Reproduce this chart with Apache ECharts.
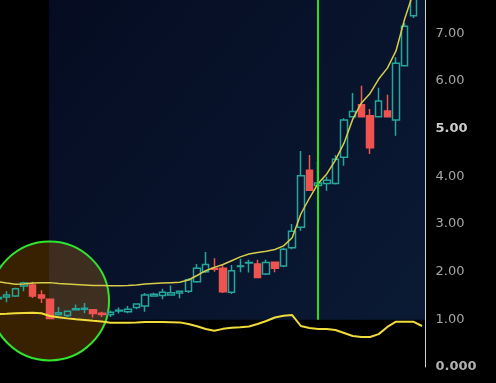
<!DOCTYPE html>
<html><head><meta charset="utf-8">
<script src="https://cdn.jsdelivr.net/npm/echarts@6/dist/echarts.min.js"></script>
<style>html,body{margin:0;padding:0;background:#000;}#c{width:496px;height:383px;}</style>
</head><body><div id="c"></div>
<script>
// ---- data ----
var opens  = [1.43,1.47,1.49,1.70,1.72,1.51,1.42,1.10,1.08,1.20,1.21,1.20,1.13,1.10,1.175,1.16,1.25,1.28,1.49,1.50,1.51,1.55,1.59,1.79,2.00,2.07,2.07,1.57,2.11,2.18,2.16,1.95,2.20,2.12,2.50,2.93,4.13,3.81,3.85,3.85,4.40,5.25,5.50,5.27,5.25,5.37,5.18,6.32,7.37];
var closes = [1.46,1.51,1.64,1.76,1.49,1.45,1.02,1.14,1.17,1.22,1.23,1.12,1.10,1.15,1.19,1.21,1.32,1.51,1.525,1.57,1.56,1.59,1.83,2.07,2.15,2.05,1.58,2.02,2.12,2.19,1.88,2.19,2.07,2.47,2.85,4.01,3.71,3.86,3.92,4.36,5.18,5.36,5.25,4.60,5.58,5.25,6.37,7.15,7.95];
var lows   = [1.40,1.36,1.47,1.59,1.45,1.34,1.00,1.08,1.05,1.20,1.13,1.04,1.05,1.05,1.12,1.13,1.21,1.16,1.49,1.42,1.51,1.44,1.55,1.77,1.97,2.00,1.55,1.53,1.99,1.98,1.88,1.93,1.99,2.09,2.47,2.86,3.70,3.81,3.70,3.83,4.22,5.25,5.25,4.47,5.25,5.25,4.85,6.32,7.32];
var highs  = [1.50,1.59,1.66,1.79,1.79,1.61,1.42,1.26,1.17,1.31,1.34,1.20,1.16,1.18,1.25,1.28,1.32,1.55,1.56,1.64,1.71,1.59,1.86,2.16,2.41,2.28,2.16,2.14,2.27,2.25,2.25,2.25,2.20,2.50,3.00,4.53,4.45,4.31,3.99,4.45,5.22,5.75,5.90,5.41,5.86,5.71,6.50,7.21,8.05];
var maLine = [1.79,1.76,1.735,1.74,1.76,1.77,1.77,1.75,1.74,1.73,1.72,1.71,1.71,1.705,1.705,1.71,1.72,1.74,1.75,1.76,1.77,1.78,1.825,1.92,2.02,2.09,2.15,2.23,2.31,2.37,2.40,2.43,2.465,2.54,2.71,3.21,3.545,3.85,4.05,4.34,4.70,5.20,5.54,5.74,6.04,6.27,6.63,7.30,7.85];
var oscLine = [1.112,1.118,1.126,1.133,1.139,1.126,1.07,1.045,1.02,1.00,0.986,0.969,0.954,0.929,0.929,0.929,0.934,0.944,0.944,0.944,0.94,0.936,0.902,0.854,0.797,0.759,0.80,0.822,0.835,0.85,0.902,0.965,1.038,1.076,1.09,0.86,0.818,0.797,0.797,0.776,0.713,0.65,0.63,0.63,0.69,0.84,0.95,0.95,0.95,0.86];
var yTicks = [0,1,2,3,4,5,6,7];
var markerIndex = 37;      // vertical green line
var circleCenter = [5.95, 1.385];
var shadeStartIndex = 5.9;
var shadeFloor = 0.99;
var yMax = 7.699;
var xMin = 0.2254, xMax = 49.41;

var candles = opens.map(function (o, i) { return [i, o, closes[i], lows[i], highs[i]]; });
var maData = maLine.map(function (v, i) { return [i, v]; });
var oscData = oscLine.map(function (v, i) { return [i, v]; });

var chart = echarts.init(document.getElementById('c'), null, {renderer: 'canvas'});
chart.setOption({
  backgroundColor: '#000000',
  animation: false,
  grid: {left: 0, right: 70.5, top: 0, bottom: 16, containLabel: false, outerBoundsMode: 'none'},
  xAxis: {type: 'value', min: xMin, max: xMax, show: false, splitLine: {show: false}},
  yAxis: {
    type: 'value', position: 'right', min: 0, max: yMax, interval: 1,
    axisLine: {show: true, lineStyle: {color: '#d0d0d0', width: 1}},
    axisTick: {show: false},
    splitLine: {show: false},
    axisLabel: {
      margin: 10, showMaxLabel: false,
      color: '#a6a6a6', fontFamily: 'DejaVu Sans', fontSize: 13,
      formatter: function (v) {
        if (Math.abs(v) < 1e-9) return '{b|0.000}';
        if (Math.abs(v - 5) < 1e-9) return '{w|5.00}';
        if (yTicks.indexOf(Math.round(v)) >= 0 && Math.abs(v - Math.round(v)) < 1e-9) return v.toFixed(2);
        return '';
      },
      rich: {
        b: {color: '#b0b0b0', fontWeight: 'bold', fontFamily: 'DejaVu Sans', fontSize: 13},
        w: {color: '#cdcdcd', fontWeight: 'bold', fontFamily: 'DejaVu Sans', fontSize: 13}
      }
    }
  },
  series: [
    {
      type: 'scatter', z: 1, silent: true,
      data: [circleCenter],
      symbol: 'circle', symbolSize: 119,
      itemStyle: {color: 'rgba(255,150,0,0.22)', borderColor: '#2fe52f', borderWidth: 2, opacity: 1}
    },
    {
      type: 'candlestick', z: 2, data: candles, barWidth: 7, clip: true,
      encode: {x: 0, y: [1, 2, 3, 4]},
      itemStyle: {
        color: 'rgba(0,0,0,0)', borderColor: '#26a69a',
        color0: '#ef5350', borderColor0: '#ef5350', borderWidth: 1.5
      },
      markArea: {
        silent: true, z: 0,
        itemStyle: {
          color: {type: 'linear', x: 0, y: 0, x2: 1, y2: 1,
            colorStops: [{offset: 0, color: '#050c22'}, {offset: 1, color: '#0b1a34'}]}
        },
        data: [[{xAxis: shadeStartIndex, yAxis: shadeFloor}, {x: 425.5, y: 0}]]
      },
      markLine: {
        silent: true, symbol: ['none', 'none'], z: 5,
        label: {show: false},
        lineStyle: {color: '#22e022', width: 2, type: 'solid'},
        data: [[{xAxis: markerIndex, yAxis: shadeFloor}, {xAxis: markerIndex, yAxis: yMax}]]
      }
    },
    {
      type: 'line', z: 3, data: maData, showSymbol: false, symbol: 'none', clip: true,
      lineStyle: {color: '#d8cc4a', width: 1.5}
    },
    {
      type: 'line', z: 3, data: oscData, showSymbol: false, symbol: 'none', clip: true,
      lineStyle: {color: '#f0dc3a', width: 2}
    }
  ]
});
</script>
</body></html>
